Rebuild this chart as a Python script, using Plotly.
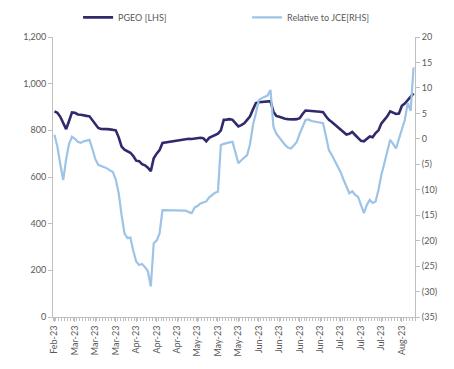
import plotly.graph_objects as go

# Trading-day index for each observation
pgeo = [881, 875, 858, 830, 805, 840, 877, 875, 868, 867, 866, 862, 860, 845, 826, 810,
        806, 807, 805, 804, 803, 800, 770, 730, 717, 712, 704, 690, 670, 668, 655, 650,
        640, 625, 680, 700, 715, 746, 748, 750, 752, 755, 754, 758, 760, 762, 764, 763,
        765, 767, 768, 766, 753, 768, 775, 780, 786, 800, 845, 846, 848, 845, 830, 817,
        822, 830, 845, 860, 890, 917, 920, 922, 921, 924, 925, 880, 862, 858, 853, 850,
        848, 846, 847, 848, 852, 870, 885, 884, 882, 883, 881, 880, 878, 860, 845, 836,
        825, 815, 803, 795, 782, 785, 793, 780, 768, 755, 753, 765, 774, 770, 788, 800,
        830, 845, 860, 881, 875, 870, 872, 905, 915, 930, 945, 958]

rel_jce = [0.8, -1.5, -5, -8.1, -4, -1, 0.4, 0.0, -0.6, -0.8, -0.5, -0.3, -0.2, -2, -4, -5.1,
           -5.3, -5.6, -5.8, -6.2, -6.5, -8, -10.7, -15, -18.6, -19.5, -19.4, -22, -24.1, -24.8, -24.6, -25.2,
           -26.0, -29.0, -20.5, -20, -18.6, -14.0, -14.0, -14.1, -14.0, -14.0, -14.1, -14.0, -14.1, -14.1, -14.4, -14.6,
           -13.5, -13.2, -12.7, -12.5, -12.3, -11.5, -11.0, -10.6, -10.4, -1.2, -1.0, -0.8, -0.7, -0.6, -3, -4.8,
           -4.2, -3.6, -3.2, -1, 2.7, 5, 7.6, 8.0, 8.2, 8.5, 9.6, 2.4, 1.0, 0.2, -0.6, -1.2,
           -1.7, -1.9, -1.3, -0.6, 1.0, 2.5, 3.7, 3.8, 3.5, 3.4, 3.3, 3.2, 3.05, 0.5, -2.2, -3.2,
           -4.3, -5.4, -6.5, -8, -9.5, -10.7, -10.3, -11.0, -11.4, -13, -14.6, -13, -12.0, -12.6, -12.3, -10,
           -7, -4.8, -2.5, -0.2, -1, -1.9, 0, 2, 3.7, 7.0, 5.5, 14.0]

day_idx = list(range(len(pgeo)))

x_tick_labels = ["Feb-23", "Mar-23", "Mar-23", "Mar-23", "Apr-23", "Apr-23", "Apr-23",
                 "May-23", "May-23", "May-23", "Jun-23", "Jun-23", "Jun-23", "Jun-23",
                 "Jul-23", "Jul-23", "Jul-23", "Aug-23"]
x_tick_pos = [7 * k for k in range(len(x_tick_labels))]

left_ticks = [0, 200, 400, 600, 800, 1000, 1200]
right_ticks = [-35, -30, -25, -20, -15, -10, -5, 0, 5, 10, 15, 20]
right_labels = ["(35)", "(30)", "(25)", "(20)", "(15)", "(10)", "(5)", "0", "5", "10", "15", "20"]

font_family = "Lato"
txt_color = "#595959"
axis_color = "#BFBFBF"

fig = go.Figure()
fig.add_trace(go.Scatter(x=day_idx, y=pgeo, mode="lines", name="PGEO [LHS]",
                         line=dict(color="#2F2A6E", width=2.6), yaxis="y"))
fig.add_trace(go.Scatter(x=day_idx, y=rel_jce, mode="lines", name="Relative to JCE[RHS]",
                         line=dict(color="#9DC3E6", width=2.2), yaxis="y2"))

fig.update_layout(
    width=454, height=369,
    margin=dict(l=53, r=39, t=37, b=52, autoexpand=False),
    paper_bgcolor="white", plot_bgcolor="white",
    font=dict(family=font_family, size=9, color=txt_color),
    showlegend=True,
    legend=dict(orientation="h", xref="container", yref="container", x=0.172, y=0.953,
                xanchor="left", yanchor="middle",
                font=dict(size=9, color=txt_color), entrywidth=124, entrywidthmode="pixels",
                itemwidth=30, bgcolor="rgba(0,0,0,0)"),
    xaxis=dict(range=[-0.5, len(pgeo) - 0.5], tickmode="array", tickvals=x_tick_pos,
               ticktext=x_tick_labels, tickangle=-90, showgrid=False, zeroline=False,
               showline=True, linecolor=axis_color, linewidth=1, ticks="outside", ticklen=4,
               tickcolor=axis_color,
               minor=dict(ticks="outside", tick0=-0.5, dtick=1, ticklen=3, tickcolor=axis_color),
               tickfont=dict(size=9, color=txt_color)),
    yaxis=dict(range=[0, 1200], tickmode="array", tickvals=left_ticks, tickformat=",",
               showgrid=False, zeroline=False, showline=True, linecolor=axis_color,
               ticks="outside", ticklen=4, tickcolor=axis_color,
               tickfont=dict(size=9, color=txt_color)),
    yaxis2=dict(range=[-35, 20], overlaying="y", side="right", tickmode="array",
                tickvals=right_ticks, ticktext=right_labels, showgrid=False, zeroline=False,
                showline=True, linecolor=axis_color, ticks="outside", ticklen=4,
                tickcolor=axis_color, tickfont=dict(size=9, color=txt_color)),
)

fig.write_html("out.html")
